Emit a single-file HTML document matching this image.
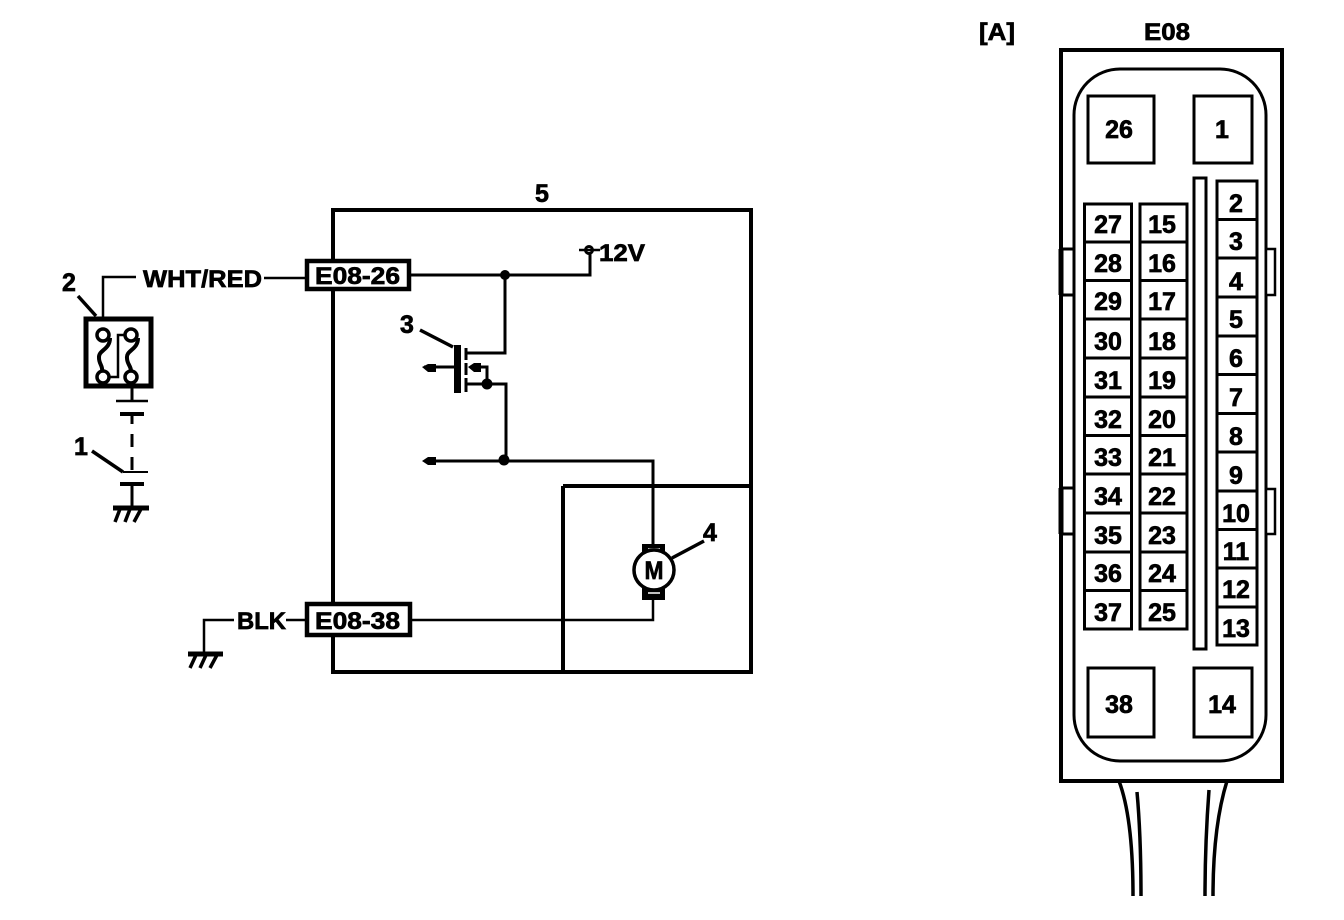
<!DOCTYPE html>
<html>
<head>
<meta charset="utf-8">
<style>
html,body{margin:0;padding:0;background:#fff;width:1344px;height:920px;overflow:hidden}
svg{display:block}
text{font-family:"Liberation Sans",sans-serif;font-weight:bold;fill:#000;stroke:#000;stroke-width:.7px}
.n{font-size:25px;text-anchor:middle}
.l{font-size:24px}
</style>
</head>
<body>
<svg width="1344" height="920" viewBox="0 0 1344 920" xmlns="http://www.w3.org/2000/svg" fill="none" stroke="#000" stroke-linecap="butt">
<!-- main box -->
<rect x="333" y="210" width="418" height="462" stroke-width="4"/>
<path d="M563 486H751M563 486V672" stroke-width="4"/>
<text class="n" x="542" y="202">5</text>

<!-- connectors -->
<rect x="307" y="261" width="102" height="28" fill="#fff" stroke-width="4.500"/>
<rect x="307" y="604" width="103" height="31" fill="#fff" stroke-width="4.500"/>
<text class="l" x="315" y="284" textLength="85" lengthAdjust="spacingAndGlyphs">E08-26</text>
<text class="l" x="315" y="629" textLength="85" lengthAdjust="spacingAndGlyphs">E08-38</text>

<!-- top wires -->
<path d="M409 275H590V250" stroke-width="3"/>
<path d="M505 275V353H466" stroke-width="3"/>
<circle cx="505" cy="275" r="5" fill="#000" stroke="none"/>
<circle cx="589" cy="250" r="3.500" fill="#fff" stroke-width="3"/>
<path d="M579 250H600" stroke-width="2.500"/>
<text class="l" x="599" y="261" textLength="46" lengthAdjust="spacingAndGlyphs">12V</text>

<!-- MOSFET -->
<path d="M457.500 345V393" stroke-width="7"/>
<path d="M466 348V360M466 363V375M466 378V392" stroke-width="3"/>
<path d="M466 384H506V461" stroke-width="3"/>
<path d="M424 367H455" stroke-width="3"/>
<path d="M422 367L428 364H436V372H428Z" fill="#000" stroke="none"/>
<path d="M470 367H487V384" stroke-width="3"/>
<path d="M468 367L474 363H481V372H474Z" fill="#000" stroke="none"/>
<circle cx="487" cy="384" r="5.500" fill="#000" stroke="none"/>
<path d="M420 330L453 347" stroke-width="3.500"/>
<text class="n" x="407" y="333">3</text>

<!-- mid wire -->
<path d="M426 461H653V546" stroke-width="3"/>
<path d="M422 461L428 457H436V465H428Z" fill="#000" stroke="none"/>
<circle cx="504" cy="460" r="5.500" fill="#000" stroke="none"/>

<!-- motor -->
<rect x="642" y="544" width="23" height="16" fill="#000" stroke="none"/>
<rect x="642" y="588" width="23" height="12" fill="#000" stroke="none"/>
<path d="M648 549H660M648 593H660" stroke="#fff" stroke-width="1.500"/>
<circle cx="654" cy="570" r="20" fill="#fff" stroke-width="3.500"/>
<text x="654" y="579" font-size="25" text-anchor="middle" textLength="19" lengthAdjust="spacingAndGlyphs">M</text>
<path d="M672 558L704 541" stroke-width="3.500"/>
<text class="n" x="710" y="541">4</text>
<path d="M410 620H653V600" stroke-width="2.500"/>

<!-- BLK ground -->
<text class="l" x="237" y="629" textLength="49" lengthAdjust="spacingAndGlyphs">BLK</text>
<path d="M286 620H306M234 620H204V652" stroke-width="2.500"/>
<path d="M188 654H223" stroke-width="5"/>
<path d="M196 655L190 668M206 655L200 668M217 655L210 668" stroke-width="3.500"/>

<!-- WHT/RED -->
<text class="l" x="143" y="287" textLength="119" lengthAdjust="spacingAndGlyphs">WHT/RED</text>
<path d="M264 278H305M136 277H103V320" stroke-width="2.500"/>
<text class="n" x="69" y="291">2</text>
<path d="M78 296L96 316" stroke-width="3.500"/>

<!-- relay/fuse -->
<rect x="86" y="319" width="65" height="67" stroke-width="5"/>
<circle cx="103" cy="335" r="6" fill="#fff" stroke-width="3.500"/>
<circle cx="131" cy="335" r="6" fill="#fff" stroke-width="3.500"/>
<circle cx="103" cy="377" r="6" fill="#fff" stroke-width="3.500"/>
<circle cx="131" cy="377" r="6" fill="#fff" stroke-width="3.500"/>
<path d="M110 338C110 350 98 350 99 358C99 364 103 366 102 371" stroke-width="4"/>
<path d="M138 338C138 350 126 350 127 358C127 364 131 366 131 371" stroke-width="4"/>
<path d="M110 377H118V335H125" stroke-width="2.500"/>

<!-- switch -->
<path d="M132 386V402" stroke-width="3"/>
<path d="M116 401H148" stroke-width="2.500"/>
<path d="M120 414H144" stroke-width="4"/>
<path d="M132 414V424M132 434V447M132 457V470" stroke-width="3"/>
<path d="M123 472H148" stroke-width="2"/>
<path d="M120 484H144" stroke-width="4"/>
<path d="M132 484V507" stroke-width="3"/>
<path d="M113 508H149" stroke-width="5"/>
<path d="M120 509L115 522M130 509L125 522M141 509L134 522" stroke-width="3.500"/>
<path d="M92 451L123 472" stroke-width="3.500"/>
<text class="n" x="81" y="455">1</text>

<!-- right connector -->
<text x="979" y="40" font-size="24" textLength="36" lengthAdjust="spacingAndGlyphs">[A]</text>
<text x="1144" y="40" font-size="24" textLength="46" lengthAdjust="spacingAndGlyphs">E08</text>
<rect x="1061" y="50" width="221" height="731" stroke-width="4"/>
<rect x="1074" y="69" width="192" height="692" rx="46" ry="46" stroke-width="3"/>
<rect x="1088" y="96" width="66" height="67" stroke-width="3"/>
<rect x="1194" y="96" width="58" height="67" stroke-width="3"/>
<rect x="1088" y="668" width="66" height="69" stroke-width="3"/>
<rect x="1194" y="668" width="58" height="69" stroke-width="3"/>
<text class="n" x="1119" y="138">26</text>
<text class="n" x="1222" y="138">1</text>
<text class="n" x="1119" y="713">38</text>
<text class="n" x="1222" y="713">14</text>

<rect x="1194" y="178" width="12" height="471" stroke-width="3"/>

<!-- side tabs -->
<rect x="1062" y="249" width="12" height="46" fill="#fff" stroke-width="3"/>
<rect x="1062" y="488" width="12" height="46" fill="#fff" stroke-width="3"/>
<path d="M1061 249V295M1061 488V534" stroke-width="5"/>
<rect x="1266" y="249" width="9" height="46" fill="#fff" stroke-width="2.500"/>
<rect x="1266" y="489" width="9" height="45" fill="#fff" stroke-width="2.500"/>

<!-- pin columns -->
<path d="M1084.500 204H1131.500V629H1084.500ZM1140 204H1187V629H1140Z" stroke-width="3"/>
<path d="M1084 242H1132M1084 280.500H1132M1084 319H1132M1084 358H1132M1084 397H1132M1084 435.500H1132M1084 474H1132M1084 513H1132M1084 552H1132M1084 590.500H1132" stroke-width="3"/>
<path d="M1140 242H1187M1140 280.500H1187M1140 319H1187M1140 358H1187M1140 397H1187M1140 435.500H1187M1140 474H1187M1140 513H1187M1140 552H1187M1140 590.500H1187" stroke-width="3"/>
<path d="M1217 181H1257V645H1217Z" stroke-width="3"/>
<path d="M1217 219.500H1257M1217 258H1257M1217 297H1257M1217 336H1257M1217 374.500H1257M1217 413.500H1257M1217 452H1257M1217 491H1257M1217 529.500H1257M1217 568H1257M1217 607H1257" stroke-width="3"/>

<g>
<text class="n" x="1108" y="233">27</text><text class="n" x="1108" y="272">28</text><text class="n" x="1108" y="310">29</text><text class="n" x="1108" y="350">30</text><text class="n" x="1108" y="389">31</text><text class="n" x="1108" y="428">32</text><text class="n" x="1108" y="466">33</text><text class="n" x="1108" y="505">34</text><text class="n" x="1108" y="544">35</text><text class="n" x="1108" y="582">36</text><text class="n" x="1108" y="621">37</text>
<text class="n" x="1162" y="233">15</text><text class="n" x="1162" y="272">16</text><text class="n" x="1162" y="310">17</text><text class="n" x="1162" y="350">18</text><text class="n" x="1162" y="389">19</text><text class="n" x="1162" y="428">20</text><text class="n" x="1162" y="466">21</text><text class="n" x="1162" y="505">22</text><text class="n" x="1162" y="544">23</text><text class="n" x="1162" y="582">24</text><text class="n" x="1162" y="621">25</text>
<text class="n" x="1236" y="212">2</text><text class="n" x="1236" y="250">3</text><text class="n" x="1236" y="290">4</text><text class="n" x="1236" y="328">5</text><text class="n" x="1236" y="367">6</text><text class="n" x="1236" y="406">7</text><text class="n" x="1236" y="445">8</text><text class="n" x="1236" y="484">9</text><text class="n" x="1236" y="522">10</text><text class="n" x="1236" y="560">11</text><text class="n" x="1236" y="598">12</text><text class="n" x="1236" y="637">13</text>
</g>

<!-- cables -->
<path d="M1119 781C1128 805 1133 840 1133 896" stroke-width="3.500"/>
<path d="M1137 792C1140 825 1141 860 1141 896" stroke-width="3.500"/>
<path d="M1209 790C1206 830 1205 860 1205 896" stroke-width="3.500"/>
<path d="M1227 781C1218 810 1213 850 1213 896" stroke-width="3.500"/>
</svg>
</body>
</html>
